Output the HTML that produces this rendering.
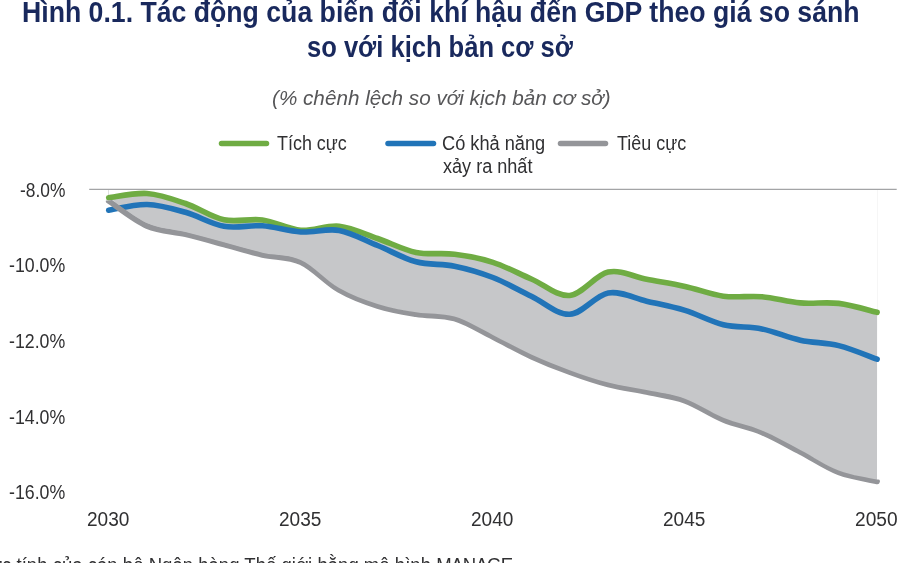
<!DOCTYPE html>
<html lang="vi">
<head>
<meta charset="utf-8">
<title>Hình 0.1</title>
<style>
html,body{margin:0;padding:0;background:#fff;}
body{width:900px;height:563px;overflow:hidden;position:relative;font-family:"Liberation Sans",sans-serif;color:#2e2e30;}
.t{position:absolute;white-space:nowrap;line-height:1;}
.title{font-weight:bold;font-size:29px;color:#19295d;transform-origin:0 0;}
.sub{font-style:italic;font-size:20.8px;color:#565658;transform-origin:0 0;}
.lab{font-size:19.4px;color:#303032;transform-origin:0 0;}
svg{position:absolute;left:0;top:0;}
</style>
</head>
<body>

<div class="t title" style="left:22.16px;top:-1.75px;transform:scaleX(0.9189)">Hình 0.1. Tác động của biến đổi khí hậu đến GDP theo giá so sánh</div>
<div class="t title" style="left:307.42px;top:33.25px;transform:scaleX(0.8804)">so với kịch bản cơ sở</div>
<div class="t sub" style="left:272.01px;top:88.29px;transform:scaleX(0.9947)">(% chênh lệch so với kịch bản cơ sở)</div>
<svg width="900" height="563" viewBox="0 0 900 563">
  <line x1="89.2" y1="189.3" x2="896.7" y2="189.3" stroke="#a3a4a6" stroke-width="1.3"/>
  <line x1="108.5" y1="190" x2="108.5" y2="200" stroke="#e0e0e0" stroke-width="1"/>
  <line x1="877.5" y1="190" x2="877.5" y2="312" stroke="#f6f6f6" stroke-width="1"/>
  <clipPath id="c1"><path d="M95 194.9L108.7 196.4C115.1 200.8 134.3 217 147.1 222.9C159.9 228.8 172.7 228.8 185.5 232C198.3 235.2 211.2 238.8 224 242.2C236.8 245.7 249.6 249.7 262.4 252.7C275.2 255.7 288 254.1 300.8 260C313.6 265.9 326.4 280.7 339.2 288.1C352 295.4 364.8 299.9 377.6 303.9C390.4 308 403.3 310.1 416.1 312.2C428.9 314.3 441.7 312.8 454.5 316.6C467.3 320.4 480.1 328.6 492.9 334.9C505.7 341.3 518.5 348.7 531.3 354.6C544.1 360.4 556.9 365.5 569.7 370.2C582.5 374.8 595.4 379.2 608.2 382.6C621 385.9 633.8 387.4 646.6 390.1C659.4 392.8 672.2 394.1 685 398.8C697.8 403.4 710.6 412.5 723.4 417.8C736.2 423 749 425 761.8 430.4C774.6 435.7 787.5 443.3 800.3 449.9C813.1 456.6 825.9 465.5 838.7 470.4C851.5 475.4 870.6 477.9 877 479.4L900 479.4 L900 563 L95 563Z"/></clipPath>
  <path d="M108.7 197.8C115.1 197.1 134.3 192.6 147.1 193.5C159.9 194.4 172.7 199.1 185.5 203.5C198.3 207.9 211.2 217.1 224 219.8C236.8 222.6 249.6 218.2 262.4 220C275.2 221.8 288 229.3 300.8 230.3C313.6 231.3 326.4 224.8 339.2 226.2C352 227.6 364.8 234.1 377.6 238.5C390.4 242.9 403.3 249.8 416.1 252.4C428.9 255 441.7 252.5 454.5 254.2C467.3 255.8 480.1 258.2 492.9 262.3C505.7 266.4 518.5 273.5 531.3 279C544.1 284.5 556.9 296.6 569.7 295.5C582.5 294.4 595.4 274.8 608.2 272.1C621 269.4 633.8 276.9 646.6 279.3C659.4 281.7 672.2 283.6 685 286.4C697.8 289.2 710.6 294.5 723.4 296.2C736.2 297.9 749 295.6 761.8 296.7C774.6 297.8 787.5 301.8 800.3 302.9C813.1 304 825.9 301.8 838.7 303.4C851.5 305 870.7 310.8 877.1 312.3L877 480.2C870.6 478.7 851.5 476.1 838.7 471.2C825.9 466.4 813.1 457.4 800.3 450.8C787.5 444.1 774.6 436.5 761.8 431.2C749 425.8 736.2 423.8 723.4 418.6C710.6 413.3 697.8 404.2 685 399.6C672.2 394.9 659.4 393.6 646.6 390.9C633.8 388.2 621 386.7 608.2 383.4C595.4 380 582.5 375.6 569.7 371C556.9 366.3 544.1 361.2 531.3 355.4C518.5 349.5 505.7 342.1 492.9 335.8C480.1 329.4 467.3 321.2 454.5 317.4C441.7 313.6 428.9 315.1 416.1 313C403.3 310.9 390.4 308.8 377.6 304.8C364.8 300.7 352 296.2 339.2 288.9C326.4 281.5 313.6 266.7 300.8 260.8C288 254.9 275.2 256.5 262.4 253.5C249.6 250.5 236.8 246.5 224 243.1C211.2 239.6 198.3 236 185.5 232.8C172.7 229.6 159.9 229.6 147.1 223.7C134.3 217.8 115.1 201.6 108.7 197.2Z" fill="#c6c7c9" stroke="none"/>
  <clipPath id="c2"><path d="M95 200.5L108.7 200.5C115.1 199.8 134.3 195.2 147.1 196.2C159.9 197.1 172.7 201.8 185.5 206.2C198.3 210.6 211.2 219.8 224 222.5C236.8 225.2 249.6 220.9 262.4 222.7C275.2 224.4 288 232 300.8 233C313.6 234 326.4 227.5 339.2 228.9C352 230.3 364.8 236.8 377.6 241.2C390.4 245.6 403.3 252.5 416.1 255.1C428.9 257.7 441.7 255.2 454.5 256.9C467.3 258.5 480.1 260.9 492.9 265C505.7 269.1 518.5 276.2 531.3 281.7C544.1 287.2 556.9 299.3 569.7 298.2C582.5 297.1 595.4 277.5 608.2 274.8C621 272.1 633.8 279.6 646.6 282C659.4 284.4 672.2 286.3 685 289.1C697.8 291.9 710.6 297.2 723.4 298.9C736.2 300.6 749 298.3 761.8 299.4C774.6 300.5 787.5 304.5 800.3 305.6C813.1 306.7 825.9 304.5 838.7 306.1C851.5 307.7 870.7 313.5 877.1 315L900 315 L900 563 L95 563Z"/></clipPath>
  <g fill="none" stroke-linecap="round" stroke-linejoin="round" stroke-width="5.6">
    <path d="M108.7 197.8C115.1 197.1 134.3 192.6 147.1 193.5C159.9 194.4 172.7 199.1 185.5 203.5C198.3 207.9 211.2 217.1 224 219.8C236.8 222.6 249.6 218.2 262.4 220C275.2 221.8 288 229.3 300.8 230.3C313.6 231.3 326.4 224.8 339.2 226.2C352 227.6 364.8 234.1 377.6 238.5C390.4 242.9 403.3 249.8 416.1 252.4C428.9 255 441.7 252.5 454.5 254.2C467.3 255.8 480.1 258.2 492.9 262.3C505.7 266.4 518.5 273.5 531.3 279C544.1 284.5 556.9 296.6 569.7 295.5C582.5 294.4 595.4 274.8 608.2 272.1C621 269.4 633.8 276.9 646.6 279.3C659.4 281.7 672.2 283.6 685 286.4C697.8 289.2 710.6 294.5 723.4 296.2C736.2 297.9 749 295.6 761.8 296.7C774.6 297.8 787.5 301.8 800.3 302.9C813.1 304 825.9 301.8 838.7 303.4C851.5 305 870.7 310.8 877.1 312.3" stroke="#6fac43"/>
    <path d="M108.7 210.2C115.1 209.2 134.3 204.2 147.1 204.5C159.9 204.8 172.7 208.7 185.5 212.3C198.3 215.9 211.2 224.1 224 226.3C236.8 228.6 249.6 224.9 262.4 225.8C275.2 226.8 288 231.2 300.8 232C313.6 232.8 326.4 228.2 339.2 230.4C352 232.7 364.8 240.3 377.6 245.5C390.4 250.7 403.3 258.4 416.1 261.8C428.9 265.2 441.7 263.6 454.5 266.2C467.3 268.8 480.1 272.5 492.9 277.5C505.7 282.5 518.5 290.2 531.3 296.3C544.1 302.4 556.9 314.9 569.7 314.3C582.5 313.8 595.4 295.2 608.2 293C621 290.8 633.8 298.3 646.6 301.2C659.4 304.1 672.2 306.5 685 310.4C697.8 314.3 710.6 321.6 723.4 324.7C736.2 327.8 749 326.3 761.8 328.9C774.6 331.5 787.5 337.4 800.3 340.2C813.1 343 825.9 342.4 838.7 345.6C851.5 348.8 870.7 356.9 877.1 359.2" stroke="#2174b8"/>
    <g clip-path="url(#c2)"><path d="M108.7 201C115.1 205.2 134.3 220.5 147.1 226.1C159.9 231.7 172.7 231.3 185.5 234.4C198.3 237.5 211.2 241.1 224 244.6C236.8 248 249.6 252 262.4 254.9C275.2 257.8 288 256.3 300.8 262.2C313.6 268.1 326.4 282.8 339.2 290.1C352 297.5 364.8 302 377.6 306C390.4 310.1 403.3 312.1 416.1 314.2C428.9 316.4 441.7 314.8 454.5 318.6C467.3 322.4 480.1 330.7 492.9 337C505.7 343.4 518.5 350.8 531.3 356.6C544.1 362.5 556.9 367.6 569.7 372.2C582.5 376.9 595.4 381.3 608.2 384.6C621 388 633.8 389.4 646.6 392.1C659.4 394.8 672.2 396.2 685 400.8C697.8 405.5 710.6 414.6 723.4 419.8C736.2 425.1 749 427.1 761.8 432.4C774.6 437.8 787.5 445.4 800.3 452C813.1 458.7 825.9 467.6 838.7 472.5C851.5 477.4 870.7 480 877.1 481.4" stroke="#949599" clip-path="url(#c1)"/></g>
  </g>
  <g fill="none" stroke-linecap="round" stroke-width="5.5">
    <line x1="221.5" y1="143.5" x2="266.5" y2="143.5" stroke="#6fac43"/>
    <line x1="388" y1="143.5" x2="433.5" y2="143.5" stroke="#2174b8"/>
    <line x1="560.5" y1="143.5" x2="605.5" y2="143.5" stroke="#949599"/>
  </g>
</svg>
<div class="t lab" style="left:276.7px;top:134.08px;transform:scaleX(0.924)">Tích cực</div>
<div class="t lab" style="left:442.36px;top:134.08px;transform:scaleX(0.9389)">Có khả năng</div>
<div class="t lab" style="left:443.3px;top:157.28px;transform:scaleX(0.9323)">xảy ra nhất</div>
<div class="t lab" style="left:616.6px;top:134.08px;transform:scaleX(0.9243)">Tiêu cực</div>
<div class="t lab" style="left:20.4px;top:180.78px;transform:scaleX(0.8959)">-8.0%</div>
<div class="t lab" style="left:9.38px;top:256.38px;transform:scaleX(0.915)">-10.0%</div>
<div class="t lab" style="left:9.38px;top:331.98px;transform:scaleX(0.915)">-12.0%</div>
<div class="t lab" style="left:9.38px;top:407.58px;transform:scaleX(0.915)">-14.0%</div>
<div class="t lab" style="left:9.38px;top:483.18px;transform:scaleX(0.915)">-16.0%</div>
<div class="t lab" style="left:86.62px;top:510.18px;transform:scaleX(0.9829)">2030</div>
<div class="t lab" style="left:278.82px;top:510.18px;transform:scaleX(0.9829)">2035</div>
<div class="t lab" style="left:471.02px;top:510.18px;transform:scaleX(0.9829)">2040</div>
<div class="t lab" style="left:663.22px;top:510.18px;transform:scaleX(0.9829)">2045</div>
<div class="t lab" style="left:855.41px;top:510.18px;transform:scaleX(0.9854)">2050</div>
<div class="t lab" style="left:-91px;top:556px;transform:scaleX(0.9576)">Nguồn: Ước tính của cán bộ Ngân hàng Thế giới bằng mô hình <span style="letter-spacing:-0.7px">MANAGE</span>.</div>
</body>
</html>
